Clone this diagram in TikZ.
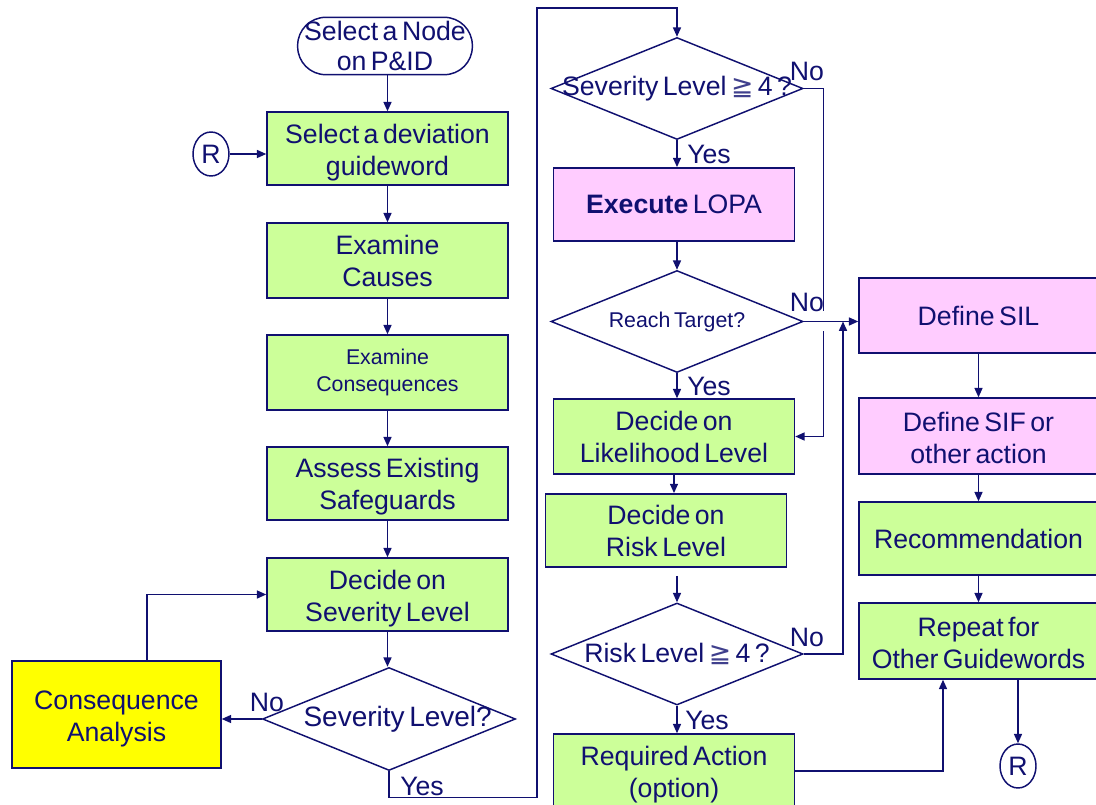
\documentclass[tikz,border=0pt]{standalone}
\usepackage{fontspec}
\setmainfont{Liberation Sans}[WordSpace=0.6]
\newfontfamily\symfont{DejaVu Sans}
\usetikzlibrary{shapes.geometric,arrows.meta}
\definecolor{navy}{RGB}{16,16,112}
\definecolor{lgreen}{RGB}{204,255,153}
\definecolor{lpink}{RGB}{255,204,255}
\definecolor{yel}{RGB}{255,255,0}
\tikzset{
  big/.style={font=\fontsize{20}{24}\selectfont},
  small/.style={font=\fontsize{16}{20}\selectfont},
  box/.style={draw=navy, line width=1.1pt, rectangle, minimum width=180.75pt, minimum height=55pt,
    inner sep=0pt, align=center, big, text=navy},
  gbox/.style={box, fill=lgreen},
  pbox/.style={box, fill=lpink},
  dia/.style={draw=navy, line width=1.1pt, diamond, inner sep=0pt, minimum width=189pt,
    minimum height=76.5pt, big, text=navy, fill=white},
  term/.style={draw=navy, line width=1.1pt, rectangle, rounded corners=21pt, minimum width=131pt,
    minimum height=43pt, inner sep=0pt, align=center, font=\fontsize{20}{23}\selectfont, text=navy, fill=white},
  conn/.style={draw=navy, line width=1.1pt, ellipse, minimum width=27pt, minimum height=33pt,
    inner sep=0pt, big, text=navy},
  arr/.style={draw=navy, line width=1.1pt, -{Triangle[length=7pt,width=6pt]}},
  lbl/.style={big, text=navy, inner sep=0pt}
}
\newcommand{\geqsym}{{\symfont\color{navy!80}≧}}
\newcommand{\dn}[1]{\rule{0pt}{#1}}
\begin{document}
\begin{tikzpicture}[x=0.75pt,y=-0.75pt]
\useasboundingbox (0,0) rectangle (1096,805);
% left column
\node[term] (start) at (385,46) {Select a Node\\on P\&ID};
\node[gbox, minimum height=54.75pt] (b1) at (387.5,148.5) {\dn{20.6pt}Select a deviation\\guideword};
\node[gbox, minimum height=56.25pt] (b2) at (387.5,260.5) {Examine\\Causes};
\node[gbox, minimum height=56.25pt, small] (b3) at (387.5,372.5) {Examine\\Consequences};
\node[gbox, minimum height=54.75pt] (b4) at (387.5,483.5) {\dn{19.1pt}Assess Existing\\Safeguards};
\node[gbox, minimum height=54.75pt] (b5) at (387.5,594.5) {\dn{20.6pt}Decide on\\Severity Level};
\node[dia, minimum width=189.75pt, minimum height=77.25pt, font=\fontsize{21}{24}\selectfont] (d1) at (389,719) {\makebox[0pt]{\hspace{13pt}Severity Level?}};
\node[box, fill=yel, minimum width=156.75pt, minimum height=80.25pt] (cons) at (116.5,714.5) {\dn{20.6pt}Consequence\\Analysis};
\node[conn] (r1) at (211,154) {R};
% middle column
\node[dia] (d2) at (677,88.5) {\makebox[0pt]{Severity Level \geqsym\ 4 ?}};
\node[pbox] (ex) at (674,204.5) {\textbf{Execute} LOPA};
\node[dia, small] (rt) at (677,321.5) {\makebox[0pt]{Reach Target?}};
\node[gbox, minimum height=56.25pt] (lk) at (674,436.5) {Decide on\\Likelihood Level};
\node[gbox] (rk) at (666,530.5) {Decide on\\Risk Level};
\node[dia] (d3) at (677,654) {\makebox[0pt]{Risk Level \geqsym\ 4 ?}};
\node[gbox, minimum height=55.5pt] (ra) at (674,771) {\dn{20.6pt}Required Action\\(option)};
% right column
\node[pbox, minimum width=179.25pt, minimum height=56.25pt] (sil) at (978.5,315.5) {Define SIL};
\node[pbox, minimum width=179.25pt, minimum height=57pt] (sif) at (978.5,436) {\dn{17.6pt}Define SIF or\\other action};
\node[gbox, minimum width=179.25pt, minimum height=54.75pt] (rec) at (978.5,538.5) {Recommendation};
\node[gbox, minimum width=179.25pt, minimum height=57pt] (rep) at (978.5,641) {\dn{17.6pt}Repeat for\\Other Guidewords};
\node[conn] (r2) at (1018,766) {R};
% connectors left
\draw[arr] (b1.north |- start.south) -- (b1.north);
\draw[arr] (r1) -- (r1 -| b1.west);
\draw[arr] (b1) -- (b2);
\draw[arr] (b2) -- (b3);
\draw[arr] (b3) -- (b4);
\draw[arr] (b4) -- (b5);
\draw[arr] (b5.south) -- (b5.south |- d1.north);
\draw[arr] (d1.west) -- (d1.west -| cons.east);
\draw[arr] ([xshift=22.9pt]cons.north) |- (b5.west);
\draw[arr] (d1.south) -- ++(0,26) -| (537,8) -| (d2.north);
% connectors middle
\draw[arr] (d2.south) -- (d2.south |- ex.north);
\draw[arr] (ex.south -| rt.north) -- (rt.north);
\draw[arr] (rt.south) -- (rt.south |- lk.north);
\draw[arr] (lk.south) -- (lk.south |- rk.north);
\draw[arr, shorten <=6pt] (d3.north |- rk.south) -- (d3.north);
\draw[arr] (d3.south) -- (d3.south |- ra.north);
\draw[arr] (d2.east) -- ++(20,0) |- (lk.east);
\draw[white, line width=3pt] (823,311) -- (823,331);
\draw[arr] (rt.east) -- (rt.east -| sil.west);
\coordinate (jn) at (843,321.5);
\draw[arr] (d3.east) -| (jn);
\draw[arr] (ra.east) -| (rep.south -| 943,0);
% connectors right
\draw[arr] (sil) -- (sif);
\draw[arr] (sif) -- (rec);
\draw[arr] (rec) -- (rep);
\draw[arr] (rep.south -| r2.north) -- (r2.north);
% labels
\node[lbl] (n1) at (267,702) {No};
\node[lbl] (y1) at (422,786) {Yes};
\node[lbl] (n2) at (807,71) {No};
\node[lbl] (y2) at (709,154) {Yes};
\node[lbl] (n3) at (807,302) {No};
\node[lbl] (y3) at (709,386) {Yes};
\node[lbl] (n4) at (807,637) {No};
\node[lbl] (y4) at (707,720) {Yes};
\end{tikzpicture}
\end{document}
